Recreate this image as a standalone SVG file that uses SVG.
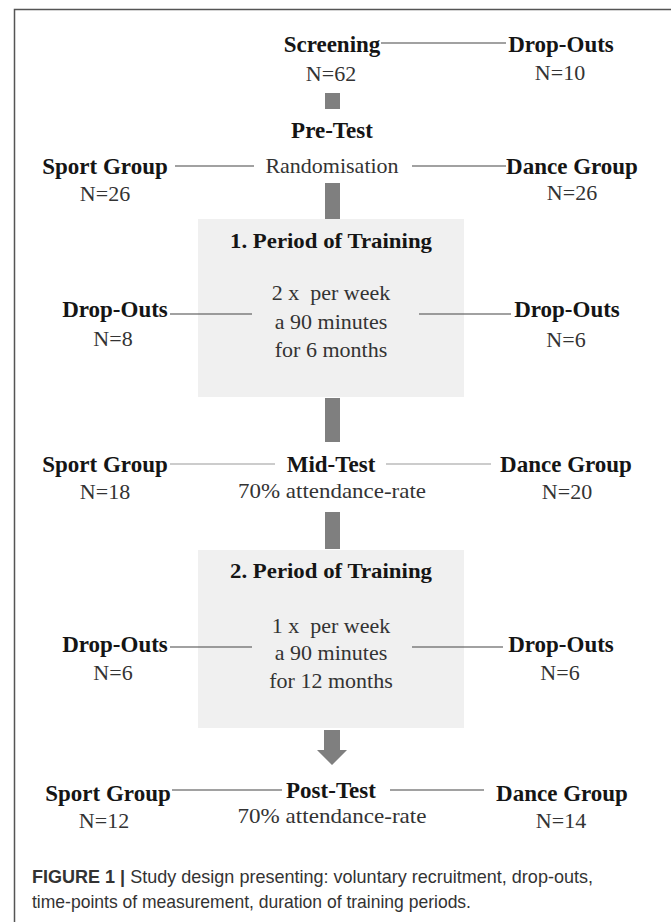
<svg xmlns="http://www.w3.org/2000/svg" width="671" height="922" viewBox="0 0 671 922">
<style>
.b{font-family:"Liberation Serif","Times New Roman",serif;font-weight:bold;font-size:23px;fill:#151515;text-anchor:middle}
.n{font-family:"Liberation Serif","Times New Roman",serif;font-size:22px;fill:#333;text-anchor:middle}
.t{font-family:"Liberation Serif","Times New Roman",serif;font-weight:bold;font-size:22px;fill:#151515;text-anchor:middle}
.ln{stroke:#444;stroke-width:1.2;fill:none}
.lt{stroke:#999;stroke-width:1.2;fill:none}
.bar{fill:#7f7f7f}
.box{fill:#f0f0f0}
.cap{font-family:"Liberation Sans",Arial,sans-serif;font-size:19px;fill:#333}
</style>
<rect width="671" height="922" fill="#fff"/>
<path d="M14.5,922 V9.5 H671" stroke="#555" stroke-width="1.5" fill="none"/>

<g id="connectors">
<line class="ln" x1="381" y1="43" x2="506" y2="43"/>
<rect class="bar" x="325" y="93" width="15" height="16"/>
<line class="ln" x1="175" y1="166" x2="254" y2="166"/>
<line class="ln" x1="412" y1="166" x2="506" y2="166"/>
<rect class="bar" x="325" y="183" width="15" height="36"/>
<rect class="bar" x="325" y="398" width="15" height="44"/>
<line class="lt" x1="170" y1="464" x2="275" y2="464"/>
<line class="lt" x1="386" y1="464" x2="491" y2="464"/>
<rect class="bar" x="325" y="512" width="15" height="37"/>
<path class="bar" d="M324,730 H340 V750 H347 L332,765 L317,750 H324 Z"/>
<line class="ln" x1="172" y1="790" x2="282" y2="790"/>
<line class="ln" x1="390" y1="790" x2="484" y2="790"/>
</g>

<g id="screening">
<text class="b" x="332" y="52">Screening</text>
<text class="n" x="331" y="81">N=62</text>
</g>
<g id="dropouts0">
<text class="b" x="561" y="52">Drop-Outs</text>
<text class="n" x="560" y="80">N=10</text>
</g>
<g id="pretest">
<text class="b" x="332" y="138">Pre-Test</text>
<text class="n" x="332" y="173">Randomisation</text>
</g>
<g id="sport1">
<text class="b" x="105" y="174">Sport Group</text>
<text class="n" x="105" y="201">N=26</text>
</g>
<g id="dance1">
<text class="b" x="572" y="174">Dance Group</text>
<text class="n" x="572" y="200">N=26</text>
</g>

<g id="training1">
<rect class="box" x="198" y="219" width="266" height="178"/>
<text class="t" x="331" y="248" textLength="202" lengthAdjust="spacingAndGlyphs">1. Period of Training</text>
<text class="n" x="331" y="300" xml:space="preserve">2 x  per week</text>
<text class="n" x="331" y="329">a 90 minutes</text>
<text class="n" x="331" y="357">for 6 months</text>
<line class="ln" x1="170" y1="314" x2="252" y2="314"/>
<line class="ln" x1="419" y1="314" x2="511" y2="314"/>
</g>
<g id="dropouts1l">
<text class="b" x="115" y="317">Drop-Outs</text>
<text class="n" x="113" y="346">N=8</text>
</g>
<g id="dropouts1r">
<text class="b" x="567" y="317">Drop-Outs</text>
<text class="n" x="566" y="347">N=6</text>
</g>

<g id="sport2">
<text class="b" x="105" y="472">Sport Group</text>
<text class="n" x="105" y="499">N=18</text>
</g>
<g id="midtest">
<text class="b" x="331" y="472">Mid-Test</text>
<text class="n" x="332" y="498" textLength="188" lengthAdjust="spacingAndGlyphs">70% attendance-rate</text>
</g>
<g id="dance2">
<text class="b" x="566" y="472">Dance Group</text>
<text class="n" x="567" y="499">N=20</text>
</g>

<g id="training2">
<rect class="box" x="198" y="550" width="266" height="178"/>
<text class="t" x="331" y="578" textLength="202" lengthAdjust="spacingAndGlyphs">2. Period of Training</text>
<text class="n" x="331" y="633" xml:space="preserve">1 x  per week</text>
<text class="n" x="331" y="660">a 90 minutes</text>
<text class="n" x="331" y="688">for 12 months</text>
<line class="ln" x1="170" y1="647" x2="252" y2="647"/>
<line class="ln" x1="412" y1="647" x2="503" y2="647"/>
</g>
<g id="dropouts2l">
<text class="b" x="115" y="652">Drop-Outs</text>
<text class="n" x="113" y="680">N=6</text>
</g>
<g id="dropouts2r">
<text class="b" x="561" y="652">Drop-Outs</text>
<text class="n" x="560" y="680">N=6</text>
</g>

<g id="sport3">
<text class="b" x="108" y="801">Sport Group</text>
<text class="n" x="104" y="828">N=12</text>
</g>
<g id="posttest">
<text class="b" x="331" y="798">Post-Test</text>
<text class="n" x="332" y="823" textLength="189" lengthAdjust="spacingAndGlyphs">70% attendance-rate</text>
</g>
<g id="dance3">
<text class="b" x="562" y="801">Dance Group</text>
<text class="n" x="561" y="828">N=14</text>
</g>

<g id="caption">
<text class="cap" x="32" y="883" textLength="561" lengthAdjust="spacingAndGlyphs"><tspan font-weight="bold">FIGURE 1 |</tspan> Study design presenting: voluntary recruitment, drop-outs,</text>
<text class="cap" x="32" y="908" textLength="439" lengthAdjust="spacingAndGlyphs">time-points of measurement, duration of training periods.</text>
</g>
</svg>
